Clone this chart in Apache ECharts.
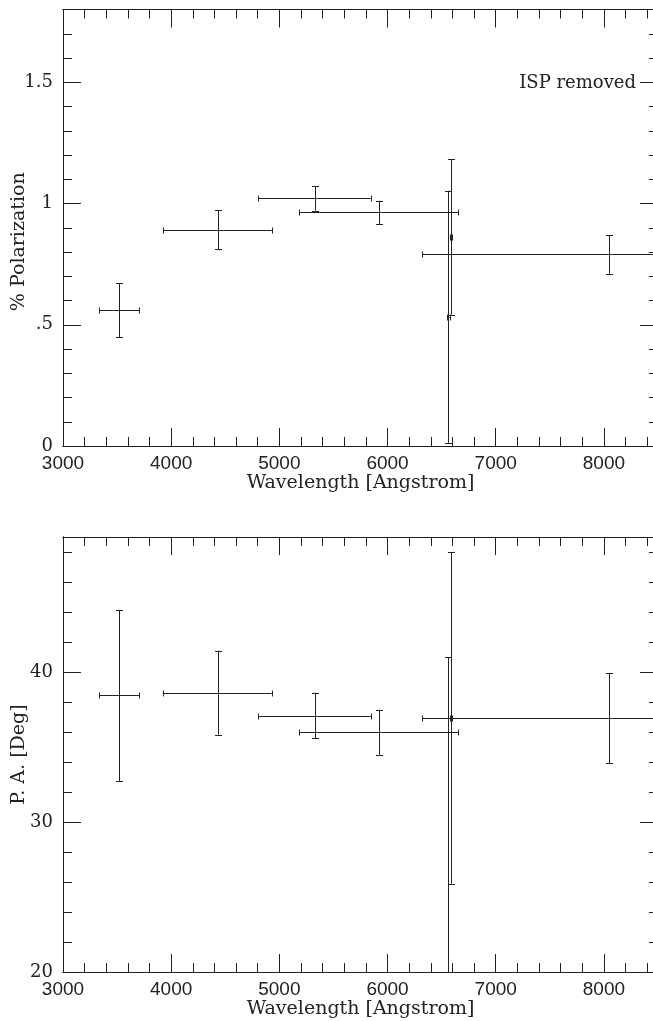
<!DOCTYPE html>
<html lang="en">
<head>
    <meta charset="UTF-8">
    <title>Polarization vs wavelength</title>
    <script src="https://cdn.jsdelivr.net/npm/echarts@6/dist/echarts.min.js"></script>
    <style>
        html, body { margin: 0; padding: 0; background: #fff; }
        #main { width: 653px; height: 1021px; }
    </style>
</head>
<body>
    <div id="main"></div>
    <script>
        // data (wavelength bins in Angstrom)
        var wavelength = [3515, 4432, 5330, 5919, 6588, 6563, 8046];
        var waveLow = [3333, 3922, 4806, 5181, 6576, 6551, 6321];
        var waveHigh = [3706, 4929, 5845, 6654, 6600, 6575, 9771];
        var polarization = [0.560, 0.892, 1.021, 0.963, 0.862, 0.533, 0.790];
        var polarizationErr = [0.112, 0.080, 0.050, 0.048, 0.320, 0.520, 0.080];
        var positionAngle = [38.44, 38.62, 37.10, 35.98, 36.93, 13.0, 36.93];
        var positionAngleErr = [5.70, 2.80, 1.52, 1.50, 11.05, 28.0, 3.0];

        var waveTicks = [3000, 4000, 5000, 6000, 7000, 8000];
        var waveTickLabels = ['3000', '4000', '5000', '6000', '7000', '8000'];
        var polTicks = [0, 0.5, 1, 1.5];
        var polTickLabels = ['0', '.5', '1', '1.5'];
        var paTicks = [20, 30, 40];
        var paTickLabels = ['20', '30', '40'];

        var ink = '#222';

        function rows(vals, errs) {
            return wavelength.map(function (w, i) {
                return [w, vals[i], waveLow[i], waveHigh[i], errs[i]];
            });
        }

        function px(v) { return Math.round(v) + 0.5; }

        // crosses with caps, clipped to the plot box
        function renderErrorBar(params, api) {
            var x = api.value(0), y = api.value(1);
            var e = api.value(4);
            var c = api.coord([x, y]);
            var pl = api.coord([api.value(2), y]);
            var ph = api.coord([api.value(3), y]);
            var pt = api.coord([x, y + e]);
            var pb = api.coord([x, y - e]);
            var cs = params.coordSys;
            var left = cs.x, right = cs.x + cs.width, top = cs.y, bottom = cs.y + cs.height;
            var kids = [];
            function seg(x1, y1, x2, y2) {
                kids.push({
                    type: 'line',
                    shape: { x1: x1, y1: y1, x2: x2, y2: y2 },
                    style: { stroke: ink, lineWidth: 1 }
                });
            }
            var cx = px(c[0]), cy = px(c[1]);
            if (c[1] >= top && c[1] <= bottom) {
                seg(Math.max(pl[0], left), cy, Math.min(ph[0], right), cy);
                if (pl[0] >= left) seg(px(pl[0]), cy - 3, px(pl[0]), cy + 3);
                if (ph[0] <= right) seg(px(ph[0]), cy - 3, px(ph[0]), cy + 3);
            }
            var ya = Math.max(pt[1], top), yb = Math.min(pb[1], bottom);
            if (ya < yb) seg(cx, ya, cx, yb);
            if (pt[1] >= top) seg(cx - 3.5, px(pt[1]), cx + 3.5, px(pt[1]));
            if (pb[1] <= bottom) seg(cx - 3.5, px(pb[1]), cx + 3.5, px(pb[1]));
            return { type: 'group', children: kids };
        }

        // one side of the frame: long ticks (with labels) + short ticks
        function side(grid, pos, min, max, major, minor, ticks, labels, font, withLabels) {
            var base = {
                type: 'value', gridIndex: grid, position: pos, min: min, max: max,
                axisLine: { show: true, onZero: false, lineStyle: { color: ink, width: 1 } },
                splitLine: { show: false }
            };
            var big = Object.assign({}, base, {
                interval: major,
                axisTick: { show: true, inside: true, length: 18, lineStyle: { color: ink } },
                axisLabel: {
                    show: withLabels, margin: pos === 'bottom' ? 8 : 10,
                    color: ink, fontFamily: font.family, fontSize: font.size,
                    formatter: function (v) {
                        for (var i = 0; i < ticks.length; i++) {
                            if (Math.abs(ticks[i] - v) < 1e-6) return labels[i];
                        }
                        return '';
                    }
                }
            });
            var small = Object.assign({}, base, {
                interval: minor,
                axisTick: { show: true, inside: true, length: 9, lineStyle: { color: ink } },
                axisLabel: { show: false }
            });
            return [big, small];
        }

        var xFont = { family: 'Liberation Sans', size: 19 };
        var yFont = { family: 'DejaVu Serif', size: 18 };
        var titleStyle = { fontFamily: 'DejaVu Serif', fontSize: 19, color: ink };

        function setName(axis, name, gap, textStyle) {
            axis.name = name;
            axis.nameLocation = 'middle';
            axis.nameGap = gap;
            axis.nameMoveOverlap = false;
            axis.nameTextStyle = textStyle;
        }

        var xAxes = [], yAxes = [];
        [0, 1].forEach(function (g) {
            var bottom = side(g, 'bottom', 3000, 8500, 1000, 200, waveTicks, waveTickLabels, xFont, true);
            setName(bottom[0], 'Wavelength [Angstrom]', 28, titleStyle);
            xAxes = xAxes.concat(bottom, side(g, 'top', 3000, 8500, 1000, 200, [], [], xFont, false));
        });

        var yLeft0 = side(0, 'left', 0, 1.8, 0.5, 0.1, polTicks, polTickLabels, yFont, true);
        setName(yLeft0[0], '% Polarization', 34, Object.assign({ padding: [0, 28, 0, 0] }, titleStyle));
        var yLeft1 = side(1, 'left', 20, 49, 10, 2, paTicks, paTickLabels, yFont, true);
        setName(yLeft1[0], 'P. A. [Deg]', 34, titleStyle);
        yAxes = yAxes.concat(yLeft0, side(0, 'right', 0, 1.8, 0.5, 0.1, [], [], yFont, false));
        yAxes = yAxes.concat(yLeft1, side(1, 'right', 20, 49, 10, 2, [], [], yFont, false));

        var chart = echarts.init(document.getElementById('main'));
        chart.setOption({
            backgroundColor: '#fff',
            animation: false,
            grid: [
                { left: 63, right: -5, top: 9.5, height: 436.5, containLabel: false, outerBoundsMode: 'none' },
                { left: 63, right: -5, top: 537, height: 435, containLabel: false, outerBoundsMode: 'none' }
            ],
            xAxis: xAxes,
            yAxis: yAxes,
            graphic: [{
                type: 'text', x: 636, y: 83,
                style: {
                    text: 'ISP removed', fill: ink,
                    font: '18px "DejaVu Serif"',
                    align: 'right', verticalAlign: 'middle',
                    textAlign: 'right', textVerticalAlign: 'middle'
                }
            }],
            series: [{
                type: 'custom', xAxisIndex: 0, yAxisIndex: 0,
                renderItem: renderErrorBar,
                encode: { x: [0, 2, 3], y: [1] },
                data: rows(polarization, polarizationErr)
            }, {
                type: 'custom', xAxisIndex: 4, yAxisIndex: 4,
                renderItem: renderErrorBar,
                encode: { x: [0, 2, 3], y: [1] },
                data: rows(positionAngle, positionAngleErr)
            }]
        });
    </script>
</body>
</html>
